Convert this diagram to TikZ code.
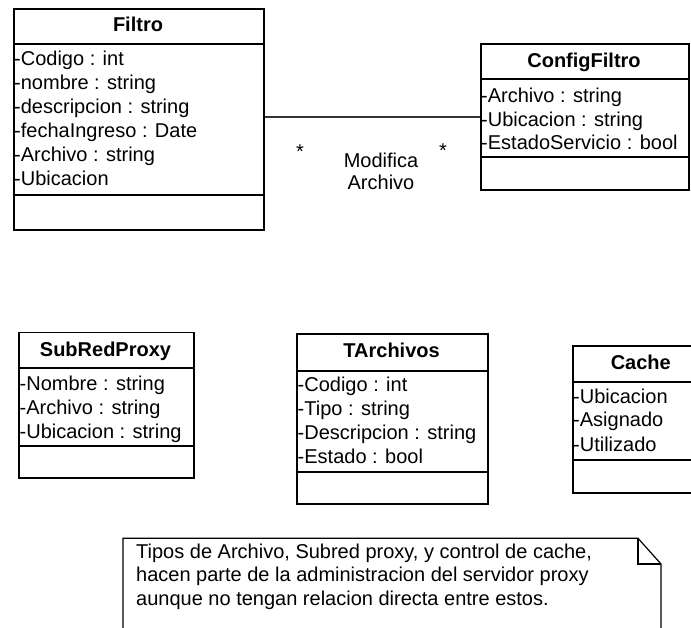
\documentclass[tikz,border=0pt]{standalone}
\usepackage{fontspec}
\setmainfont{Liberation Sans}
\begin{document}
\begin{tikzpicture}[x=1pt,y=-1pt,
  classbox/.style={draw, line width=1.8pt, inner sep=0pt, anchor=north west},
  sep/.style={line width=1.8pt},
  ctitle/.style={font=\fontsize{20}{24}\selectfont\bfseries, anchor=base, inner sep=0pt},
  attr/.style={font=\fontsize{20}{24}\selectfont, anchor=base west, inner sep=0pt},
  lbl/.style={font=\fontsize{20}{24}\selectfont, anchor=base, inner sep=0pt},
  assoc/.style={line width=1.1pt, black!80},
  noteline/.style={line width=1.2pt}]
\useasboundingbox (0,0) rectangle (691,628);
\clip (0,0) rectangle (691,628);

% class Filtro
\node[classbox, minimum width=250pt, minimum height=221pt] (filtro) at (13,8) {};
\draw[sep] (filtro.west |- 0,44) -- (filtro.east |- 0,44);
\draw[sep] (filtro.west |- 0,195) -- (filtro.east |- 0,195);
\node[ctitle] (filtroName) at (138,32) {Filtro};
\node[attr] (f1) at (14,66) {-Codigo : int};
\node[attr] (f2) at (14,90) {-nombre : string};
\node[attr] (f3) at (14,114) {-descripcion : string};
\node[attr] (f4) at (14,138) {-fechaIngreso : Date};
\node[attr] (f5) at (14,162) {-Archivo : string};
\node[attr] (f6) at (14,186) {-Ubicacion};

% class ConfigFiltro
\node[classbox, minimum width=208pt, minimum height=146pt] (config) at (480,43) {};
\draw[sep] (config.west |- 0,79) -- (config.east |- 0,79);
\draw[sep] (config.west |- 0,157) -- (config.east |- 0,157);
\node[ctitle] (configName) at (584,68) {ConfigFiltro};
\node[attr] (c1) at (481,103) {-Archivo : string};
\node[attr] (c2) at (481,126.5) {-Ubicacion : string};
\node[attr] (c3) at (481,150) {-EstadoServicio : bool};

% association Filtro -- ConfigFiltro
\coordinate (assocY) at (300,117);
\draw[assoc] (filtro.east |- assocY) -- (config.west |- assocY);
\node[lbl] (multA) at (300,159) {*};
\node[lbl] (multB) at (443,158) {*};
\node[lbl] (roleA) at (381,168) {Modifica};
\node[lbl] (roleB) at (381,190) {Archivo};

% class SubRedProxy
\node[classbox, minimum width=174.4pt, minimum height=145.6pt] (subred) at (18.3,331.7) {};
\draw[sep] (subred.west |- 0,367.7) -- (subred.east |- 0,367.7);
\draw[sep] (subred.west |- 0,446) -- (subred.east |- 0,446);
\node[ctitle] (subredName) at (105.5,357) {SubRedProxy};
\node[attr] (s1) at (19.5,390) {-Nombre : string};
\node[attr] (s2) at (19.5,414) {-Archivo : string};
\node[attr] (s3) at (19.5,438) {-Ubicacion : string};

% class TArchivos
\node[classbox, minimum width=191.3pt, minimum height=170pt] (tarch) at (296,333.3) {};
\draw[sep] (tarch.west |- 0,370.7) -- (tarch.east |- 0,370.7);
\draw[sep] (tarch.west |- 0,472.3) -- (tarch.east |- 0,472.3);
\node[ctitle] (tarchName) at (391.6,358) {TArchivos};
\node[attr] (t1) at (297.5,391.5) {-Codigo : int};
\node[attr] (t2) at (297.5,415) {-Tipo : string};
\node[attr] (t3) at (297.5,439.5) {-Descripcion : string};
\node[attr] (t4) at (297.5,463) {-Estado : bool};

% class Cache
\node[classbox, minimum width=150pt, minimum height=146.7pt] (cache) at (571.7,345) {};
\draw[sep] (cache.west |- 0,381.7) -- (cache.east |- 0,381.7);
\draw[sep] (cache.west |- 0,460) -- (cache.east |- 0,460);
\node[ctitle] (cacheName) at (640.8,369.8) {Cache};
\node[attr] (k1) at (573,403) {-Ubicacion};
\node[attr] (k2) at (573,426.5) {-Asignado};
\node[attr] (k3) at (573,451) {-Utilizado};

% note with folded corner
\coordinate (noteTL) at (123,538.3);
\coordinate (foldA) at (638,538.3);
\coordinate (foldB) at (661,564);
\draw[noteline] (noteTL |- 0,640) -- (noteTL) -- (foldA) -- (foldB) -- (foldB |- 0,640);
\draw[noteline] (foldA) -- (foldA |- foldB) -- (foldB);
\node[attr] (n1) at (136,558) {Tipos de Archivo, Subred proxy, y control de cache,};
\node[attr] (n2) at (136,581.5) {hacen parte de la administracion del servidor proxy};
\node[attr] (n3) at (136,605) {aunque no tengan relacion directa entre estos.};
\end{tikzpicture}
\end{document}
